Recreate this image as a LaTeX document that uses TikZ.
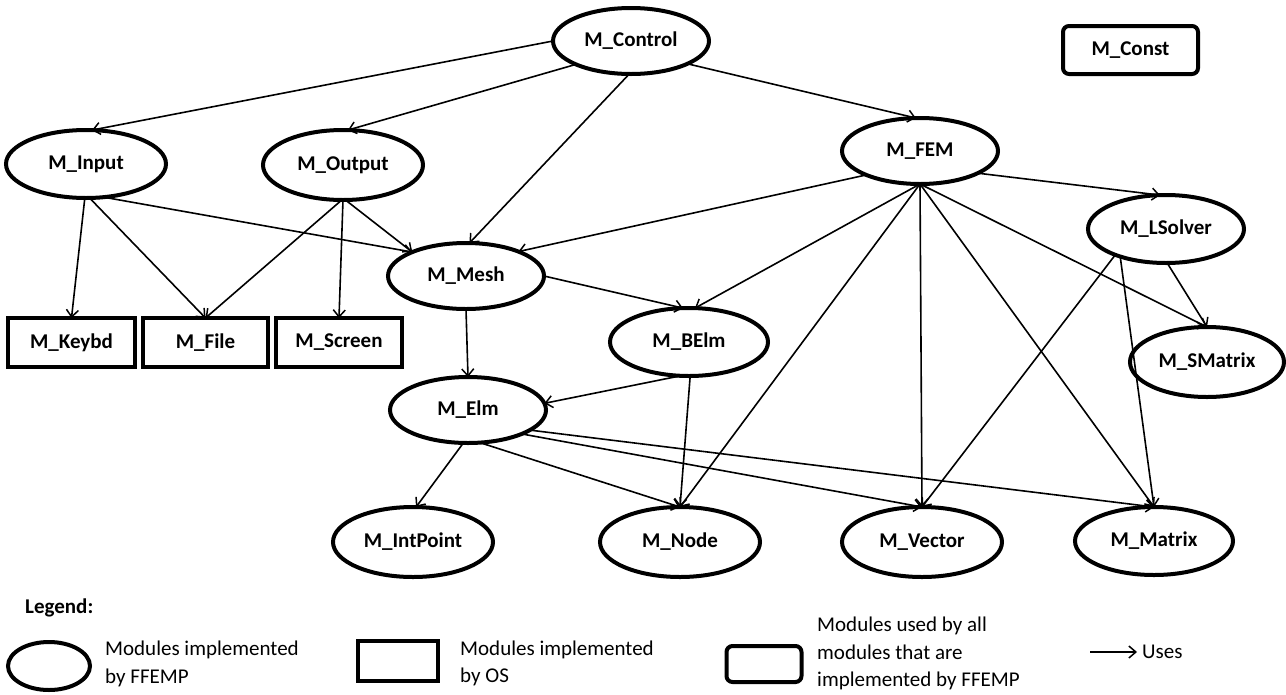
\documentclass[tikz,border=0pt]{standalone}
\usepackage{fontspec}
\setmainfont{Carlito}
\usetikzlibrary{arrows.meta,shapes.geometric}
\begin{document}
\begin{tikzpicture}[x=1pt,y=-1pt,
  labelfont/.style={font=\bfseries\fontsize{21}{25}\selectfont},
  module/.style={ellipse, draw, line width=4pt, inner sep=0pt, outer sep=0pt, labelfont},
  osbox/.style={rectangle, draw, line width=4pt, inner sep=0pt, outer sep=0pt, labelfont},
  constbox/.style={osbox, rounded corners=6pt},
  uses/.style={line width=1.6pt, -{Straight Barb[length=7pt,width=12pt,line width=1.5pt]}},
  legendtext/.style={anchor=west, align=left, inner sep=0pt, font=\fontsize{21}{27.5}\selectfont}
]
\useasboundingbox (0,0) rectangle (1286,694);

% modules implemented by FFEMP
\node[module, minimum width=156pt, minimum height=66pt] (ctrl)     at (631,41)   {M\_Control};
\node[module, minimum width=160pt, minimum height=68pt] (input)    at (86,164)   {M\_Input};
\node[module, minimum width=160pt, minimum height=70pt] (output)   at (343,165)  {M\_Output};
\node[module, minimum width=156pt, minimum height=66pt] (fem)      at (920,151)  {M\_FEM};
\node[module, minimum width=156pt, minimum height=68pt] (lsolver)  at (1166,229) {M\_LSolver};
\node[module, minimum width=156pt, minimum height=66pt] (mesh)     at (466,276)  {M\_Mesh};
\node[module, minimum width=158pt, minimum height=68pt] (belm)     at (689,342)  {M\_BElm};
\node[module, minimum width=156pt, minimum height=66pt] (elm)      at (468,410)  {M\_Elm};
\node[module, minimum width=154pt, minimum height=70pt] (smatrix)  at (1207,362) {M\_SMatrix};
\node[module, minimum width=160pt, minimum height=70pt] (intpoint) at (413,542)  {M\_IntPoint};
\node[module, minimum width=160pt, minimum height=70pt] (nodemod)  at (680,542)  {M\_Node};
\node[module, minimum width=160pt, minimum height=70pt] (vector)   at (922,542)  {M\_Vector};
\node[module, minimum width=158pt, minimum height=68pt] (matrix)   at (1154,541) {M\_Matrix};

% modules implemented by the OS
\node[osbox, minimum width=127pt, minimum height=49pt] (keybd)  at (71.5,342.5)  {M\_Keybd};
\node[osbox, minimum width=125pt, minimum height=49pt] (file)   at (205.5,342.5) {M\_File};
\node[osbox, minimum width=126pt, minimum height=49pt] (screen) at (339,342.5)   {M\_Screen};

% module used by all others
\node[constbox, minimum width=135pt, minimum height=48pt] (const) at (1130.5,50) {M\_Const};

% uses relations
\draw[uses] (ctrl.180) -- (input.80);
\draw[uses] (ctrl.203) -- (output.82);
\draw[uses] (ctrl.267) -- (mesh.84);
\draw[uses] (ctrl.338) -- (fem.97);

\draw[uses] (input.268) -- (keybd.north);
\draw[uses] (input.276) -- (file.north);
\draw[uses] (input.298) -- (mesh.156);

\draw[uses] (output.268) -- (file.north);
\draw[uses] (output.270) -- (screen.north);
\draw[uses] (output.274) -- (mesh.156);

\draw[uses] (fem.204) -- (mesh.25);
\draw[uses] (fem.south) -- (belm.80);
\draw[uses] (fem.south) -- (nodemod.north);
\draw[uses] (fem.south) -- (vector.north);
\draw[uses] (fem.south) -- (matrix.north);
\draw[uses] (fem.south) -- (smatrix.north);
\draw[uses] (fem.339) -- (lsolver.100);

\draw[uses] (lsolver.207) -- (vector.north);
\draw[uses] (lsolver.211) -- (matrix.north);
\draw[uses] (lsolver.272) -- (smatrix.north);

\draw[uses] (mesh.south) -- (elm.north);
\draw[uses] (mesh.0) -- (belm.100);

\draw[uses] (belm.256) -- (elm.5);
\draw[uses] (belm.272) -- (nodemod.north);

\draw[uses] (elm.262) -- (intpoint.85);
\draw[uses] (elm.290) -- (nodemod.north);
\draw[uses] (elm.336) -- (vector.north);
\draw[uses] (elm.342) -- (matrix.north);

% legend
\node[anchor=west, inner sep=0pt, font=\bfseries\fontsize{21}{25}\selectfont] (lgtitle) at (25,608) {Legend:};

\node[ellipse, draw, line width=4pt, inner sep=0pt, minimum width=82pt, minimum height=48pt] (lgell) at (49,666) {};
\node[legendtext] (lgelltext) at (105,664) {Modules implemented\\by FFEMP};

\node[rectangle, draw, line width=4pt, inner sep=0pt, minimum width=80pt, minimum height=40pt] (lgrect) at (398,661) {};
\node[legendtext] (lgrecttext) at (460,663.5) {Modules implemented\\by OS};

\node[rectangle, rounded corners=6pt, draw, line width=4pt, inner sep=0pt, minimum width=75pt, minimum height=36pt] (lground) at (764,664) {};
\node[legendtext] (lgroundtext) at (817,653.5) {Modules used by all\\modules that are\\implemented by FFEMP};

\coordinate (lgA) at (1090,652);
\coordinate (lgB) at (1137,652);
\draw[uses] (lgA) -- (lgB);
\node[legendtext] (lguses) at (1142,652) {Uses};
\end{tikzpicture}
\end{document}
